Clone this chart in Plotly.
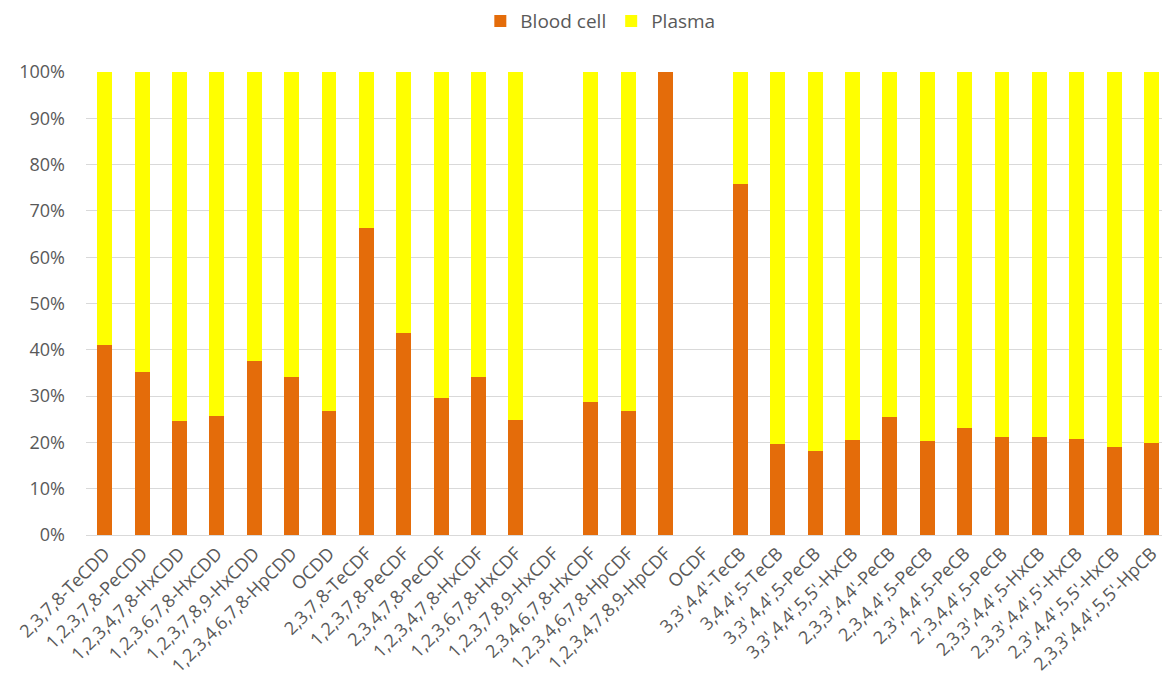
import plotly.graph_objects as go

categories = [
    "2,3,7,8-TeCDD", "1,2,3,7,8-PeCDD", "1,2,3,4,7,8-HxCDD", "1,2,3,6,7,8-HxCDD",
    "1,2,3,7,8,9-HxCDD", "1,2,3,4,6,7,8-HpCDD", "OCDD", "2,3,7,8-TeCDF",
    "1,2,3,7,8-PeCDF", "2,3,4,7,8-PeCDF", "1,2,3,4,7,8-HxCDF", "1,2,3,6,7,8-HxCDF",
    "1,2,3,7,8,9-HxCDF", "2,3,4,6,7,8-HxCDF", "1,2,3,4,6,7,8-HpCDF", "1,2,3,4,7,8,9-HpCDF",
    "OCDF", "3,3',4,4'-TeCB", "3,4,4',5-TeCB", "3,3',4,4',5-PeCB",
    "3,3',4,4',5,5'-HxCB", "2,3,3',4,4'-PeCB", "2,3,4,4',5-PeCB", "2,3',4,4',5-PeCB",
    "2',3,4,4',5-PeCB", "2,3,3',4,4',5-HxCB", "2,3,3',4,4',5'-HxCB", "2,3',4,4',5,5'-HxCB",
    "2,3,3',4,4',5,5'-HpCB",
]

blood_cell = [
    41.1, 35.2, 24.7, 25.8, 37.6, 34.2, 26.8, 66.2,
    43.6, 29.6, 34.1, 24.8, None, 28.8, 26.8, 100.0,
    None, 75.8, 19.7, 18.1, 20.6, 25.4, 20.4, 23.1,
    21.1, 21.1, 20.7, 19.1, 19.8,
]

plasma = [None if b is None else (0.0 if b >= 100 else 100.0 - b) for b in blood_cell]

blood_frac = [None if v is None else v / 100 for v in blood_cell]
plasma_frac = [None if v is None else v / 100 for v in plasma]

ORANGE = "#E46C0A"
YELLOW = "#FFFF00"
TEXT = "#595959"
GRID = "#D9D9D9"
FONT = "Open Sans"

fig = go.Figure()
fig.add_trace(go.Bar(name="Blood cell", x=categories, y=blood_frac,
                     marker=dict(color=ORANGE, line=dict(width=0))))
fig.add_trace(go.Bar(name="Plasma", x=categories, y=plasma_frac,
                     marker=dict(color=YELLOW, line=dict(width=0))))

fig.update_layout(
    barmode="stack",
    bargap=0.6,
    width=1162,
    height=695,
    margin=dict(l=86, r=0, t=72, b=160, autoexpand=False),
    paper_bgcolor="white",
    plot_bgcolor="white",
    font=dict(family=FONT, color=TEXT, size=18),
    legend=dict(orientation="h", x=0.478, xanchor="center", y=0.997, yanchor="top",
                yref="container", font=dict(size=19, color=TEXT),
                traceorder="normal"),
    showlegend=True,
)

fig.update_xaxes(
    type="category",
    range=[-0.5, 28.28],
    automargin=False,
    tickangle=-45,
    tickfont=dict(size=18, color=TEXT, family=FONT),
    showgrid=False,
    showline=True,
    linecolor=GRID,
    linewidth=1,
    ticks="",
)
fig.update_yaxes(
    range=[0, 1],
    automargin=False,
    tickvals=[i / 10 for i in range(11)],
    ticktext=[f"{i*10}%" for i in range(11)],
    tickfont=dict(size=18, color=TEXT, family=FONT),
    showgrid=True,
    gridcolor=GRID,
    gridwidth=1,
    zeroline=False,
    ticks="",
    ticklabelstandoff=20,
)

fig.write_html("out.html",
               config={"displayModeBar": False},
               post_script="document.body.style.margin='0';document.body.style.overflow='hidden';")
